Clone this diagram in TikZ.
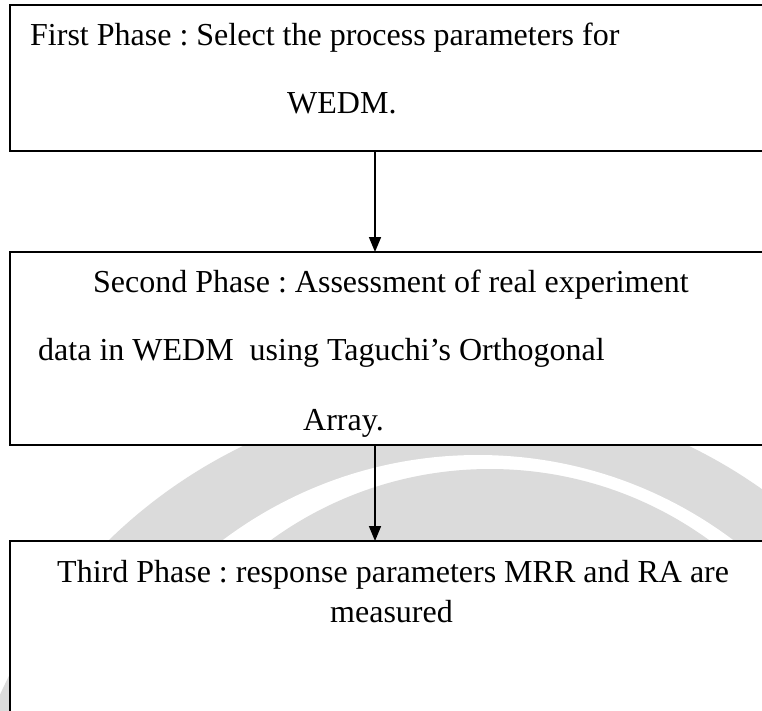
\documentclass[tikz,border=0pt]{standalone}
\usepackage{fontspec}
\setmainfont{Liberation Serif}
\usetikzlibrary{arrows.meta}
\frenchspacing

\begin{document}
\begin{tikzpicture}[x=1pt,y=-1pt,
    phasebox/.style={draw,fill=white,rectangle,inner sep=0pt,outer sep=0pt,anchor=north west},
    phasetext/.style={anchor=base west,inner sep=0pt,font=\fontsize{32}{38}\selectfont},
    flowarrow/.style={line width=1.6pt,-{Triangle[length=15pt,width=12pt]}}]
    \clip (0,0) rectangle (762,710);

    % faint watermark behind the boxes
    \fill[black!14] (466,907) circle[radius=512pt];
    \fill[white] (478,880) circle[radius=425pt];
    \fill[black!14] (490,842) circle[radius=373pt];

    \node[phasebox,line width=2pt,minimum width=800pt,minimum height=146pt] (phase1) at (10,5) {};
    \node[phasebox,line width=1.4pt,minimum width=800pt,minimum height=193pt] (phase2) at (10,252) {};
    \node[phasebox,line width=1.5pt,minimum width=800pt,minimum height=220pt] (phase3) at (10,541) {};

    \coordinate (arrowx) at (375,0);
    \draw [flowarrow] (phase1.south -| arrowx)
        -- (phase2.north -| arrowx);
    \draw [flowarrow] (phase2.south -| arrowx)
        -- (phase3.north -| arrowx);

    \node[phasetext] (first1) at (30,45) {First Phase : Select the process parameters for};
    \node[phasetext] (first2) at (287,113) {WEDM.};

    \node[phasetext] (second1) at (93,292) {Second Phase : Assessment of real experiment};
    \node[phasetext] (second2) at (38,360) {data in WEDM\ \ using Taguchi’s Orthogonal};
    \node[phasetext] (second3) at (303,430) {Array.};

    \node[phasetext] (third1) at (57,582) {Third Phase : response parameters MRR and RA are};
    \node[phasetext] (third2) at (330,622) {measured};
\end{tikzpicture}
\end{document}
